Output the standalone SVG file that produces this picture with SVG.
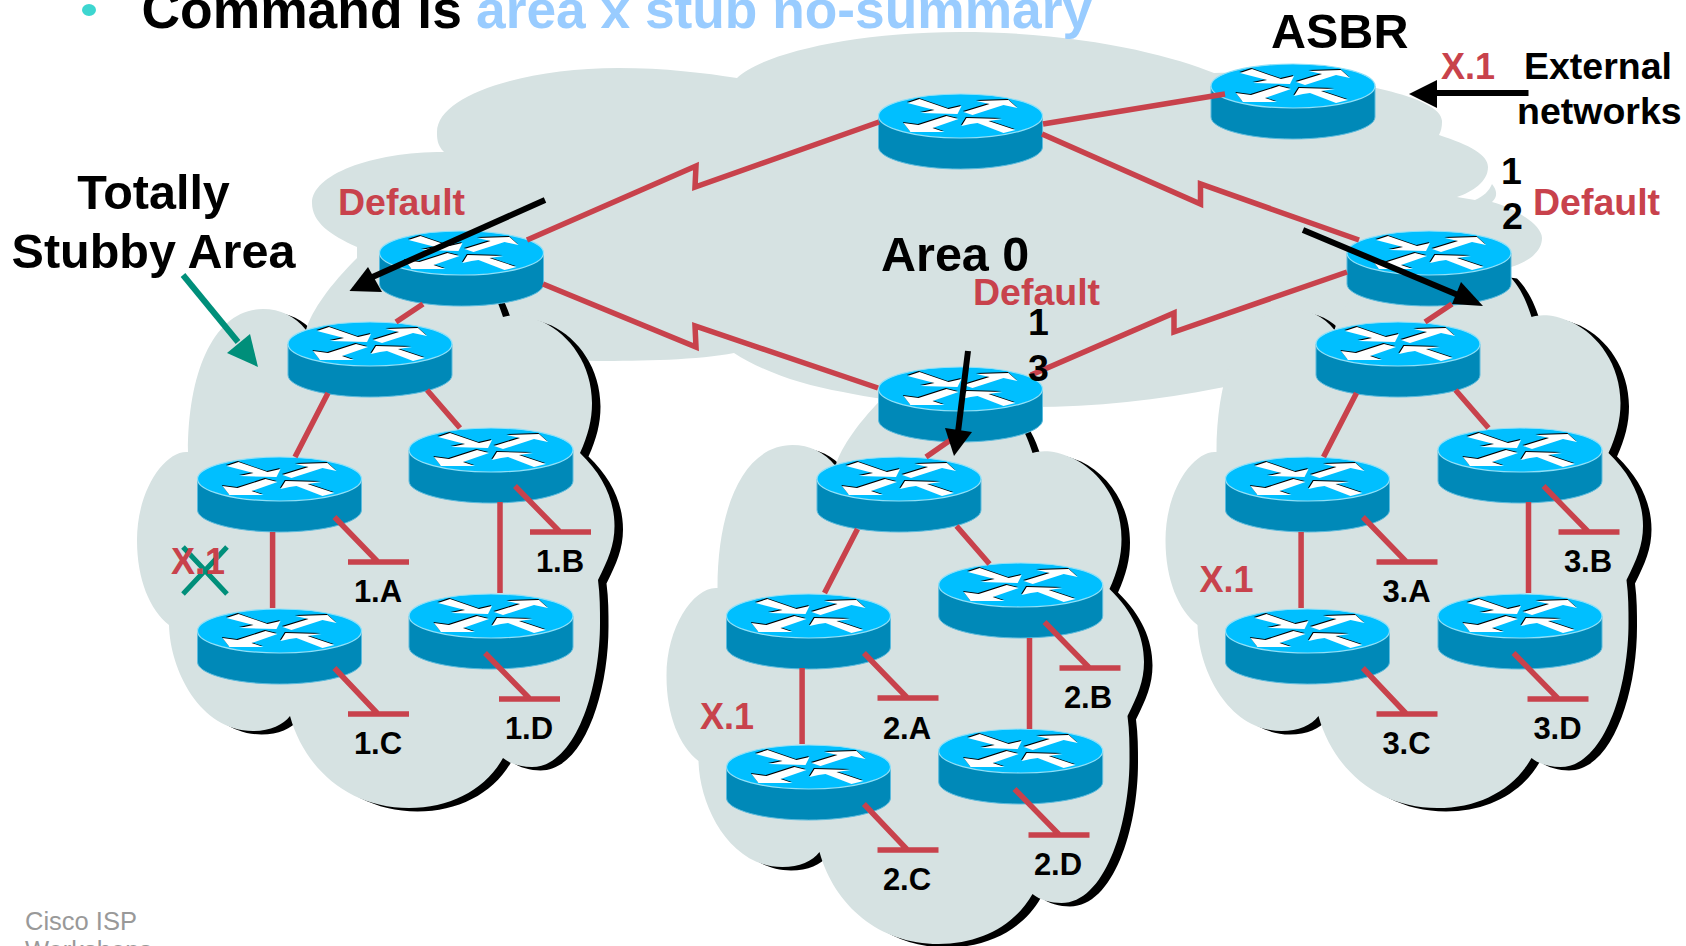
<svg xmlns="http://www.w3.org/2000/svg" xmlns:xlink="http://www.w3.org/1999/xlink" width="1686" height="946" viewBox="0 0 1686 946">
<style>
text{font-family:"Liberation Sans",Arial,sans-serif;font-weight:700;fill:#000}
.red{fill:#C8424C}
.big{font-size:48.500px}
.mid{font-size:37.500px}
.x1{font-size:36px}
.lab{font-size:31px;text-anchor:middle}
.cl{fill:#D6E2E2}
.sh{fill:#000}
.ln{fill:none;stroke:#C8424C;stroke-width:5.500;stroke-linejoin:miter}
.blk{fill:none;stroke:#000;stroke-width:6}
</style>
<defs>
<path id="cloud" d="M357 258C330 285 312 310 306 330C295 316 280 309 263 309C215 309 188 370 188 452C165 450 137 490 137 540C137 580 150 610 169 625C170 670 200 731 253 731C270 731 283 725 290 716C305 770 350 808 409 808C450 808 485 790 503 758C510 764 522 767 532 767C575 767 600 690 600 623C600 610 600 595 598 580C608 560 614.500 545 614.500 526C614.500 500 603 475 580 453C588 435 592 420 592 403C592 365 570 335 543 322C525 314 512 314 503 317C497 298 490 285 480 275Z"/>
<g id="router">
<path d="M-82 0V31C-82 43-45 53 0 53S82 43 82 31V0Z" fill="#0089B8" stroke="#5CBBDD" stroke-width="1"/>
<ellipse rx="82" ry="22" fill="#00BFFF" stroke="#8FE0F8" stroke-width="1.200"/>
<g fill="#000" transform="translate(-.7 -.9)">
<path d="M-53-13L-41-17L-12-7L1-10L-3-2L-40-3L-26-6Z"/><path d="M3-4L29-12L16-15L48-16L57-8L43-11L12-1Z"/><path d="M-57 7L-42 9L-14 0L-2 3L-28 12L-16 16L-50 16Z"/><path d="M1 10L6 2L42 3L28 5L55 14L43 17L17 7L10 8Z"/>
</g>
<g fill="#fff">
<path d="M-53-13L-41-17L-12-7L1-10L-3-2L-40-3L-26-6Z"/><path d="M3-4L29-12L16-15L48-16L57-8L43-11L12-1Z"/><path d="M-57 7L-42 9L-14 0L-2 3L-28 12L-16 16L-50 16Z"/><path d="M1 10L6 2L42 3L28 5L55 14L43 17L17 7L10 8Z"/>
</g>
</g>
<g id="zone-links">
<path class="ln" d="M328 393L295 457M427 390L460 428M272.600 532V608M500 502V593"/>
<path class="ln" d="M334.400 517L378 562M348 562H409M515 486L560 532M530 532H591M334.400 668L378 714M348 714H409M485 653L530 699M499 699H560"/>
</g>
</defs>

<g id="area0-cloud"><path class="cl" d="M357 258L357 247C330 235 312 222 312 203C312 175 370 152 444 152C437 145 437 138 437 132C437 95 525 68 618 68C665 68 705 73 737 78C760 55 850 32 960 32C1080 32 1170 55 1214 73C1290 70 1445 90 1442 122C1442 127 1441 131 1439 135C1470 145 1488 155 1488 167C1488 182 1472 192 1457 197L1475 200C1484 196 1489 191 1492 184C1497 190 1498 197 1492 202C1515 208 1542 225 1542 238C1542 252 1528 262 1511 267L1450 320L1300 370C1270 378 1245 384 1219 388C1160 400 1095 407 1031 407C985 407 900 405 843 392C800 385 760 370 734 353C700 360 640 361 597 361C520 361 400 310 357 258Z"/></g>

<g id="zone1-cloud"><use href="#cloud" class="sh" transform="translate(8.500 3.500)"/><use href="#cloud" class="cl"/></g>
<g id="zone2-cloud" transform="translate(529.500 136)"><use href="#cloud" class="sh" transform="translate(8.500 3.500)"/><use href="#cloud" class="cl"/></g>
<g id="zone3-cloud" transform="translate(1028.500 0)"><use href="#cloud" class="sh" transform="translate(8.500 3.500)"/><use href="#cloud" class="cl"/></g>

<g id="r-center"><use href="#router" x="960.500" y="116"/></g>
<g id="r-asbr"><use href="#router" x="1293" y="86"/></g>
<g id="r-abr1"><use href="#router" x="461.500" y="253"/></g>
<g id="r-abr2"><use href="#router" x="960.500" y="389"/></g>
<g id="r-abr3"><use href="#router" x="1429" y="253"/></g>
<g id="r1-top"><use href="#router" x="370" y="344"/></g>
<g id="r1-a"><use href="#router" x="279.500" y="479"/></g>
<g id="r1-b"><use href="#router" x="491" y="450"/></g>
<g id="r1-c"><use href="#router" x="279.500" y="631"/></g>
<g id="r1-d"><use href="#router" x="491" y="616"/></g>
<g id="r2-top"><use href="#router" x="899" y="479"/></g>
<g id="r2-a"><use href="#router" x="808.500" y="616"/></g>
<g id="r2-b"><use href="#router" x="1020.700" y="585"/></g>
<g id="r2-c"><use href="#router" x="808.500" y="767"/></g>
<g id="r2-d"><use href="#router" x="1020.700" y="751"/></g>
<g id="r3-top"><use href="#router" x="1398" y="344"/></g>
<g id="r3-a"><use href="#router" x="1307.500" y="479"/></g>
<g id="r3-b"><use href="#router" x="1520" y="450"/></g>
<g id="r3-c"><use href="#router" x="1307.500" y="631"/></g>
<g id="r3-d"><use href="#router" x="1520" y="616"/></g>

<g id="connectors">
<path class="ln" d="M527 240L696 166L695 187L879 122"/>
<path class="ln" d="M543 284L696 347L695 326L878 388"/>
<path class="ln" d="M1042 134L1200.500 204L1200.500 184L1359 240"/>
<path class="ln" d="M1347 272L1174 332L1174 313L1031 375"/>
<path class="ln" d="M1043 124L1225 94"/>
<path class="ln" d="M423 304L396 322M950.500 440L926 457M1452 304L1425 322"/>
<use href="#zone-links"/>
<use href="#zone-links" transform="translate(529.500 136)"/>
<use href="#zone-links" transform="translate(1028.500 0)"/>
</g>

<g id="arrows">
<path class="blk" d="M545 200L368 279"/><path d="M349.500 291L368 267L382 292Z"/>
<path class="blk" d="M1303 230L1458 295"/><path d="M1483 306L1461 282L1452 304Z"/>
<path class="blk" d="M968 351L958 432"/><path d="M954 456L945 428L972 432Z"/>
<path class="blk" d="M1528.500 93H1430"/><path d="M1409 94L1437 80V108Z"/>
<path fill="none" stroke="#008F7A" stroke-width="6" d="M183 275L238 342"/><path fill="#008F7A" d="M258 367L227 353L250 334Z"/>
<path fill="none" stroke="#008F7A" stroke-width="5" d="M183 547L227 594M227 547L183 594"/>
</g>

<g id="title">
<ellipse cx="89" cy="10" rx="7" ry="6" fill="#3DD6D0"/>
<text x="141.500" y="28" style="font-size:53.400px">Command is</text>
<text x="476" y="28" style="font-size:53.300px;fill:#99CCFF">area x stub no-summary</text>
</g>
<g id="labels">
<text class="big" x="153.500" y="209" text-anchor="middle">Totally</text>
<text class="big" x="153.500" y="268" text-anchor="middle">Stubby Area</text>
<text class="big" x="1271" y="48">ASBR</text>
<text class="big" x="881" y="271">Area 0</text>
<text class="mid" x="1524" y="79">External</text>
<text class="mid" x="1517" y="124">networks</text>
<text class="x1 red" x="1441" y="79">X.1</text>
<text class="mid red" x="338" y="215">Default</text>
<text class="mid red" x="1533" y="215">Default</text>
<text class="mid red" x="973" y="305">Default</text>
<text class="mid" x="1501" y="184">1</text>
<text class="mid" x="1502" y="229">2</text>
<text class="mid" x="1028" y="335">1</text>
<text class="mid" x="1028" y="381">3</text>
<text class="x1 red" x="171" y="574">X.1</text>
<text class="x1 red" x="700" y="729">X.1</text>
<text class="x1 red" x="1199.500" y="592">X.1</text>
<text class="lab" x="378" y="602">1.A</text>
<text class="lab" x="560" y="572">1.B</text>
<text class="lab" x="378" y="754">1.C</text>
<text class="lab" x="529" y="739">1.D</text>
<text class="lab" x="907" y="739">2.A</text>
<text class="lab" x="1088" y="708">2.B</text>
<text class="lab" x="907" y="890">2.C</text>
<text class="lab" x="1058" y="875">2.D</text>
<text class="lab" x="1406.500" y="602">3.A</text>
<text class="lab" x="1588" y="572">3.B</text>
<text class="lab" x="1406.500" y="754">3.C</text>
<text class="lab" x="1557.500" y="739">3.D</text>
<text x="25" y="930" style="font-size:25.500px;font-weight:400;fill:#999">Cisco ISP</text>
<text x="25" y="959" style="font-size:25.500px;font-weight:400;fill:#999">Workshops</text>
</g>
</svg>
